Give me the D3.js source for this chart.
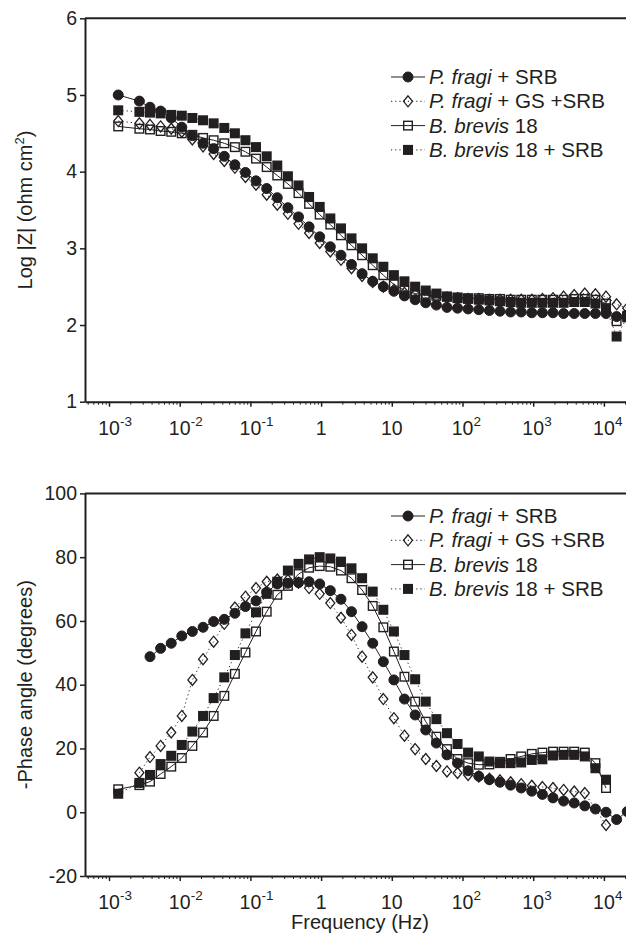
<!DOCTYPE html>
<html>
<head>
<meta charset="utf-8">
<script src="https://cdn.jsdelivr.net/npm/d3@7"></script>
<style>
  body { margin: 0; background: #fff; }
  svg { display: block; font-family: "Liberation Sans", Arial, Helvetica, sans-serif; }
</style>
</head>
<body>
<svg id="chart" width="626" height="937"></svg>
<script>

// DATA
// measured frequencies (Hz)
var freq = [0.00135, 0.00269, 0.0038, 0.00537, 0.00759, 0.0107, 0.0151, 0.0214, 0.0302, 0.0427,
  0.0603, 0.0851, 0.120, 0.170, 0.240, 0.339, 0.479, 0.676, 0.955, 1.35,
  1.91, 2.69, 3.80, 5.37, 7.59, 10.7, 15.1, 21.4, 30.2, 42.7,
  60.3, 85.1, 120, 170, 240, 339, 479, 676, 955, 1349,
  1905, 2692, 3802, 5370, 7586, 10715, 15136, 21380];

var seriesNames = ["P. fragi + SRB", "P. fragi + GS +SRB", "B. brevis 18", "B. brevis 18 + SRB"];

// log |Z| (ohm cm2)
var logZ_fragiSRB = [5.00, 4.92, 4.84, 4.79, 4.70, 4.58, 4.47, 4.37, 4.30, 4.20,
  4.09, 3.99, 3.88, 3.78, 3.66, 3.53, 3.41, 3.28, 3.15, 3.02,
  2.91, 2.79, 2.67, 2.57, 2.50, 2.44, 2.38, 2.33, 2.29, 2.26,
  2.23, 2.22, 2.21, 2.20, 2.19, 2.18, 2.17, 2.17, 2.16, 2.16,
  2.16, 2.15, 2.15, 2.15, 2.15, 2.15, 2.11, 2.13];
var logZ_fragiGS = [4.66, 4.63, 4.61, 4.59, 4.56, 4.52, 4.42, 4.33, 4.23, 4.14,
  4.05, 3.93, 3.83, 3.70, 3.57, 3.45, 3.32, 3.20, 3.07, 2.96,
  2.85, 2.74, 2.64, 2.56, 2.50, 2.46, 2.42, 2.40, 2.38, 2.37,
  2.36, 2.35, 2.34, 2.34, 2.33, 2.33, 2.33, 2.33, 2.33, 2.34,
  2.35, 2.37, 2.39, 2.41, 2.40, 2.37, 2.27, 2.22];
var logZ_brevis = [4.59, 4.56, 4.55, 4.53, 4.52, 4.50, 4.48, 4.44, 4.41, 4.37,
  4.32, 4.26, 4.17, 4.06, 3.95, 3.84, 3.72, 3.58, 3.44, 3.31,
  3.17, 3.04, 2.91, 2.78, 2.65, 2.53, 2.45, 2.41, 2.39, 2.38,
  2.37, 2.36, 2.35, 2.35, 2.34, 2.34, 2.33, 2.33, 2.33, 2.33,
  2.33, 2.33, 2.34, 2.34, 2.33, 2.28, 2.05, 2.12];
var logZ_brevisSRB = [4.80, 4.78, 4.77, 4.76, 4.74, 4.73, 4.70, 4.67, 4.63, 4.57,
  4.50, 4.41, 4.32, 4.20, 4.08, 3.94, 3.82, 3.67, 3.54, 3.39,
  3.26, 3.13, 3.00, 2.87, 2.76, 2.65, 2.57, 2.50, 2.45, 2.41,
  2.37, 2.35, 2.34, 2.33, 2.32, 2.31, 2.30, 2.29, 2.29, 2.29,
  2.29, 2.29, 2.30, 2.30, 2.28, 2.22, 1.85, 2.10];

// -phase angle (degrees)
var phase_fragiSRB = [null, null, 48.8, 51.4, 53.0, 55.3, 56.7, 58.0, 59.8, 60.5,
  62.4, 64.5, 66.3, 69.0, 71.6, 71.8, 72.0, 72.3, 71.6, 69.5,
  66.8, 62.9, 58.2, 53.0, 47.2, 41.5, 35.5, 30.5, 25.8, 21.7,
  18.0, 15.4, 13.0, 11.3, 10.2, 9.4, 8.5, 7.6, 6.6, 5.6,
  4.5, 3.5, 2.9, 2.0, 1.0, 0.0, -2.3, 0.2];
var phase_fragiGS = [null, 12.4, 17.3, 20.8, 25.0, 30.2, 41.5, 48.0, 53.5, 59.1,
  64.2, 67.6, 70.3, 72.3, 73.0, 72.8, 72.0, 70.3, 68.5, 65.6,
  61.0, 55.6, 48.8, 42.3, 35.5, 29.5, 24.0, 19.8, 16.7, 14.5,
  12.8, 12.3, 11.7, 11.2, 10.5, 10.0, 9.4, 8.8, 8.3, 7.9,
  7.6, 7.0, 6.5, 6.0, null, -4.0, null, null];
var phase_brevis = [7.2, 8.5, 9.6, 12.0, 14.3, 17.0, 20.8, 25.0, 30.2, 36.5,
  43.4, 50.1, 56.7, 62.9, 68.2, 71.0, 74.7, 76.7, 77.2, 77.0,
  75.8, 73.4, 69.7, 64.7, 58.0, 50.4, 42.5, 34.7, 28.4, 23.7,
  19.8, 16.7, 15.4, 14.9, 15.0, 15.8, 16.7, 17.5, 18.3, 18.7,
  19.0, 19.0, 19.0, 18.7, 15.4, 7.6, null, null];
var phase_brevisSRB = [5.8, 9.2, 11.7, 15.1, 17.7, 21.1, 25.3, 30.2, 35.8, 42.3,
  49.3, 56.1, 62.7, 68.5, 72.3, 75.8, 77.9, 79.3, 80.0, 79.6,
  78.6, 76.5, 73.4, 69.2, 63.5, 56.7, 49.3, 41.7, 34.7, 29.2,
  24.8, 21.4, 18.7, 17.5, 15.9, 15.4, 15.4, 15.6, 16.4, 16.6,
  17.8, 18.0, 18.0, 17.5, 13.8, 10.2, null, null];

var logZTicks = [1, 2, 3, 4, 5, 6];
var phaseTicks = [-20, 0, 20, 40, 60, 80, 100];
var freqTicks = [0.001, 0.01, 0.1, 1, 10, 100, 1000, 10000];
var freqTickBase = ["10", "10", "10", "1", "10", "10", "10", "10"];
var freqTickExp = ["-3", "-2", "-1", "", "", "2", "3", "4"];

//////////////////////// D3 STUFF

var ink = "#231f20";
var svg = d3.select("#chart");

// same log axis for both panels
var x = d3.scaleLog()
  .domain([4.575e-4, 20540])
  .range([85, 626]);

var yTop = d3.scaleLinear().domain([1, 6]).range([401.7, 18.3]);
var yBot = d3.scaleLinear().domain([-20, 100]).range([876, 493.4]);

// marker + line style per series
var styles = [
  { shape: "circle", fill: ink, dash: null },
  { shape: "diamond", fill: "none", dash: "1.2,3" },
  { shape: "square", fill: "none", dash: null },
  { shape: "square", fill: ink, dash: "1.2,3" }
];

function drawMarker(g, shape, fill, cx, cy) {
  if (shape === "circle") {
    g.append("circle").attr("cx", cx).attr("cy", cy).attr("r", 5)
      .attr("fill", fill).attr("stroke", ink).attr("stroke-width", 1);
  } else if (shape === "square") {
    g.append("rect").attr("x", cx - 4.3).attr("y", cy - 4.3)
      .attr("width", 8.6).attr("height", 8.6)
      .attr("fill", fill).attr("stroke", ink).attr("stroke-width", 1.4);
  } else {
    g.append("path")
      .attr("d", "M" + cx + "," + (cy - 5.5) + "L" + (cx + 4.5) + "," + cy +
        "L" + cx + "," + (cy + 5.5) + "L" + (cx - 4.5) + "," + cy + "Z")
      .attr("fill", fill).attr("stroke", ink).attr("stroke-width", 1.3);
  }
}

function drawPanel(y, ticks, allSeries, legendTop, yTitle, showSup) {

  var panel = svg.append("g");

  // y axis, plain hyphen for negatives
  panel.append("g")
    .attr("transform", "translate(85,0)")
    .call(d3.axisLeft(y).tickValues(ticks).tickSize(5).tickSizeOuter(0).tickPadding(3)
      .tickFormat(function(d) { return String(d); }))
    .call(function(g) {
      g.select(".domain").attr("stroke", ink).attr("stroke-width", 2);
      g.selectAll(".tick line").attr("stroke", ink).attr("stroke-width", 1.5);
      g.selectAll(".tick text").attr("fill", ink)
        .style("font-size", "19.5px").style("font-family", null);
    });

  // x axis (major + minor ticks)
  var minor = [];
  for (var e = -4; e <= 4; e++) {
    for (var m = 2; m <= 9; m++) {
      var v = m * Math.pow(10, e);
      if (v > x.domain()[0] && v < x.domain()[1]) minor.push(v);
    }
  }
  var yBase = y.range()[0];
  panel.append("g")
    .attr("transform", "translate(0," + yBase + ")")
    .call(d3.axisBottom(x).tickValues(minor).tickSize(3).tickSizeOuter(0).tickFormat(""))
    .call(function(g) {
      g.select(".domain").attr("stroke", ink).attr("stroke-width", 2);
      g.selectAll(".tick line").attr("stroke", ink).attr("stroke-width", 1);
    });
  panel.append("g")
    .attr("transform", "translate(0," + yBase + ")")
    .call(d3.axisBottom(x).tickValues(freqTicks).tickSize(5).tickSizeOuter(0).tickFormat(""))
    .call(function(g) {
      g.select(".domain").remove();
      g.selectAll(".tick line").attr("stroke", ink).attr("stroke-width", 1.5);
    });

  // tick labels with superscripts
  freqTicks.forEach(function(f, i) {
    panel.append("text")
      .attr("x", x(f)).attr("y", yBase + 33)
      .attr("text-anchor", "middle")
      .attr("fill", ink).style("font-size", "19.5px")
      .text(freqTickBase[i]);
    if (freqTickExp[i] !== "") {
      panel.append("text")
        .attr("x", x(f) + 11).attr("y", yBase + 24)
        .attr("fill", ink).style("font-size", "13.5px")
        .text(freqTickExp[i]);
    }
  });

  // top frame line
  panel.append("line")
    .attr("x1", 85).attr("x2", 626)
    .attr("y1", y.range()[1]).attr("y2", y.range()[1])
    .attr("stroke", ink).attr("stroke-width", 2);

  // y title
  var yt = panel.append("text")
    .attr("transform", "translate(32," + ((y.range()[0] + y.range()[1]) / 2) + ") rotate(-90)")
    .attr("text-anchor", "middle")
    .attr("fill", ink).style("font-size", "20px");
  yt.append("tspan").text(yTitle);
  if (showSup) {
    yt.append("tspan").attr("dy", -8).style("font-size", "13px").text("2");
    yt.append("tspan").attr("dy", 8).text(")");
  }

  // series: line then markers
  var line = d3.line()
    .x(function(d) { return x(d.f); })
    .y(function(d) { return y(d.v); });

  allSeries.forEach(function(vals, s) {
    var pts = [];
    vals.forEach(function(v, i) { if (v !== null) pts.push({ f: freq[i], v: v }); });
    var st = styles[s];
    panel.append("path")
      .attr("d", line(pts))
      .attr("fill", "none").attr("stroke", ink)
      .attr("stroke-width", 1)
      .attr("stroke-dasharray", st.dash);
    var mg = panel.append("g");
    pts.forEach(function(p) { drawMarker(mg, st.shape, st.fill, x(p.f), y(p.v)); });
  });

  // legend
  seriesNames.forEach(function(name, s) {
    var cy = legendTop + s * 24.3;
    var st = styles[s];
    panel.append("line")
      .attr("x1", 391).attr("x2", 425).attr("y1", cy).attr("y2", cy)
      .attr("stroke", ink).attr("stroke-width", 1)
      .attr("stroke-dasharray", st.dash);
    drawMarker(panel, st.shape, st.fill, 408, cy);
    var t = panel.append("text")
      .attr("x", 429).attr("y", cy + 7)
      .attr("fill", ink).style("font-size", "20.6px");
    var parts = name.split(" ");
    t.append("tspan").style("font-style", "italic").text(parts[0] + " " + parts[1]);
    t.append("tspan").text(" " + parts.slice(2).join(" "));
  });
}

drawPanel(yTop, logZTicks, [logZ_fragiSRB, logZ_fragiGS, logZ_brevis, logZ_brevisSRB],
  77, "Log |Z| (ohm cm", true);
drawPanel(yBot, phaseTicks, [phase_fragiSRB, phase_fragiGS, phase_brevis, phase_brevisSRB],
  516, "-Phase angle (degrees)", false);

// x title
svg.append("text")
  .attr("x", 360).attr("y", 929)
  .attr("text-anchor", "middle")
  .attr("fill", ink).style("font-size", "20px")
  .text("Frequency (Hz)");

</script>
</body>
</html>
